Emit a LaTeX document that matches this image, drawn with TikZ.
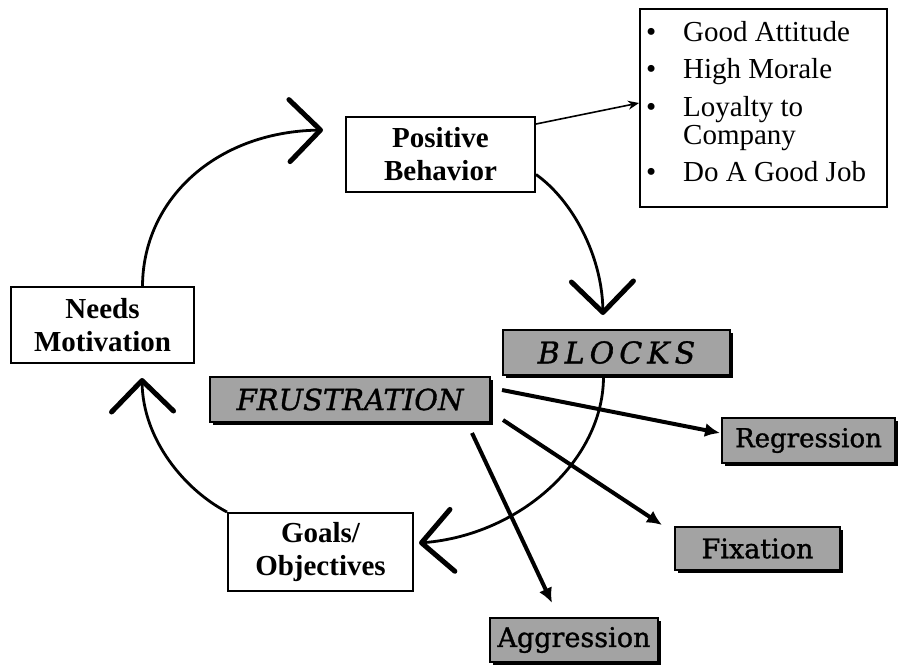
\documentclass[tikz,border=0pt]{standalone}
\usepackage{fontspec}
\setmainfont{Liberation Serif}
\newfontfamily\shadefont[FakeBold=1.2]{DejaVu Serif}
\usetikzlibrary{arrows.meta,shadows}

\begin{document}
\begin{tikzpicture}[x=1pt,y=-1pt,
  plainbox/.style={draw, line width=2pt, align=center, inner sep=0pt,
    font=\bfseries\fontsize{29}{33}\selectfont},
  shadebox/.style={draw, line width=1.5pt, fill=black!36, inner sep=0pt,
    font=\shadefont\fontsize{26}{28}\selectfont,
    drop shadow={shadow xshift=2.5pt, shadow yshift=-2.5pt, fill=black, opacity=1}},
  cyc/.style={line width=2.8pt,
    -{Straight Barb[length=31pt,width=62pt,line width=5pt,round]}},
  branch/.style={line width=4pt, -{Latex[length=15pt,width=14pt]}},
  pointer/.style={line width=1.6pt, -{Stealth[length=11pt,width=9pt]}}
]
\useasboundingbox (0,0) rectangle (902,664);

% plain boxes of the cycle
\node[plainbox, minimum width=189pt, minimum height=75pt] (pos) at (440.5,154.5) {Positive\\Behavior};
\node[plainbox, minimum width=183pt, minimum height=76pt] (needs) at (102.5,325) {Needs\\Motivation};
\node[plainbox, minimum width=185pt, minimum height=78pt] (goals) at (320.5,552) {Goals/\\Objectives};

% list of outcomes
\node[draw, line width=2pt, minimum width=247pt, minimum height=198pt, inner sep=0pt] (bul) at (763.5,108) {};
\node[anchor=north west, inner sep=0pt, align=left, font=\fontsize{29}{28}\selectfont] (bultext) at (646,21)
  {\begin{tabular}{@{}p{37pt}@{}l@{}}
   \textbullet & Good Attitude\\[9pt]
   \textbullet & High Morale\\[9pt]
   \textbullet & Loyalty to\\
               & Company\\[9pt]
   \textbullet & Do A Good Job
   \end{tabular}};

% shaded boxes
\node[shadebox, minimum width=227pt, minimum height=45pt] (blocks) at (616.5,352.5)
  {\fontsize{30}{30}\selectfont\itshape B\hspace{5pt}L\hspace{5pt}O\hspace{5pt}C\hspace{5pt}K\hspace{5pt}S};
\node[shadebox, minimum width=280pt, minimum height=45pt] (frus) at (350,399.5) {\fontsize{29}{30}\selectfont\itshape FRUSTRATION};
\node[shadebox, minimum width=173pt, minimum height=45pt] (regr) at (808.5,440.5) {Regression};
\node[shadebox, minimum width=165pt, minimum height=43pt] (fix) at (757.5,548.5) {\fontsize{27}{28}\selectfont Fixation};
\node[shadebox, minimum width=168pt, minimum height=44pt] (aggr) at (574,640) {\fontsize{27}{28}\selectfont Aggression};

% arrow tips of the cycle
\coordinate (tipPos) at (323,130);
\coordinate (tipBlocks) at (603,315);
\coordinate (tipGoals) at (419,543);
\coordinate (tipNeeds) at (142,378);

% the cycle
\draw[cyc] ([xshift=40pt]needs.north) .. controls (143,200) and (215,132) .. (tipPos);
\draw[cyc] ([yshift=-20pt]pos.east) .. controls (572,200) and (602,255) .. (tipBlocks);
\draw[cyc] ([xshift=-13pt]blocks.south) .. controls (604,460) and (520,535) .. (tipGoals);
\draw[cyc] (goals.north west) .. controls (185,490) and (143,440) .. (tipNeeds);

% positive behavior leads to the outcomes
\draw[pointer] ([yshift=-8pt]pos.north east) -- ([yshift=5pt]bul.west);

% reactions to frustration
\coordinate (fr1) at (502,390);
\coordinate (fr2) at (503,420);
\coordinate (fr3) at (472,433);
\coordinate (toRegr) at (720,433);
\coordinate (toFix) at (662,525);
\coordinate (toAggr) at (552,603);
\draw[branch] (fr1) -- (toRegr);
\draw[branch] (fr2) -- (toFix);
\draw[branch] (fr3) -- (toAggr);
\end{tikzpicture}
\end{document}
